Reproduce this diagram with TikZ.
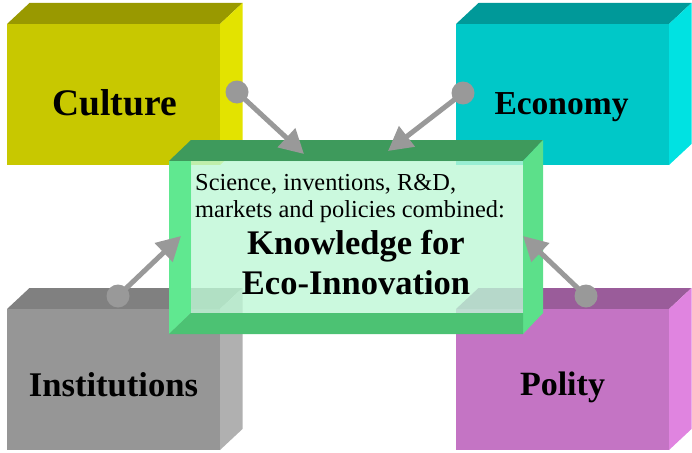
\documentclass[tikz,border=0pt]{standalone}
\usepackage{fontspec}
\setmainfont{Liberation Serif}
\usetikzlibrary{arrows.meta}

\definecolor{culFront}{HTML}{C8C800}
\definecolor{culTop}{HTML}{999900}
\definecolor{culSide}{HTML}{E3E300}
\definecolor{ecoFront}{HTML}{00C8C8}
\definecolor{ecoTop}{HTML}{009999}
\definecolor{ecoSide}{HTML}{00E2E2}
\definecolor{insFront}{HTML}{969696}
\definecolor{insTop}{HTML}{808080}
\definecolor{insSide}{HTML}{B0B0B0}
\definecolor{polFront}{HTML}{C474C4}
\definecolor{polTop}{HTML}{9A5C9A}
\definecolor{polSide}{HTML}{E084E0}
\definecolor{knTop}{HTML}{3E9A5C}
\definecolor{knSide}{HTML}{5CE08A}
\definecolor{knLeft}{HTML}{60E890}
\definecolor{knBottom}{HTML}{4CC273}
\definecolor{knPanel}{HTML}{BEF8D6}
\definecolor{linkGray}{HTML}{999999}

% solid cuboid: front corners (#1,#2)-(#3,#4), colours front/top/side
\newcommand\solidcuboid[7]{%
  \fill[#6] (#1,#2) -- (#1+22.5,#2-21) -- (#3+22.5,#2-21) -- (#3,#2) -- cycle;
  \fill[#7] (#3,#2) -- (#3+22.5,#2-21) -- (#3+22.5,#4-21) -- (#3,#4) -- cycle;
  \fill[#5] (#1,#2) rectangle (#3,#4);
}

\begin{document}
\begin{tikzpicture}[x=1pt,y=-1pt,
  biglabel/.style={font=\fontsize{#1}{38}\selectfont\bfseries, inner sep=0pt, anchor=base},
  smalltext/.style={font=\fontsize{24.4}{27}\selectfont, inner sep=0pt, anchor=base west},
  boldtext/.style={font=\fontsize{34.5}{36}\selectfont\bfseries, inner sep=0pt, anchor=base},
  dot/.style={circle, fill=linkGray, minimum size=23pt, inner sep=0pt},
  link/.style={draw=linkGray, line width=5pt, -{Triangle[length=24pt,width=25pt]}}]
\useasboundingbox (0,0) rectangle (692,452);

% the four surrounding blocks
\solidcuboid{7}{24}{220}{165}{culFront}{culTop}{culSide}
\solidcuboid{456}{24}{669}{165}{ecoFront}{ecoTop}{ecoSide}
\solidcuboid{7}{309}{220}{450}{insFront}{insTop}{insSide}
\solidcuboid{456}{309}{669}{450}{polFront}{polTop}{polSide}

\node[biglabel=37.5] (culture) at (114.5,115) {Culture};
\node[biglabel=33.5] (economy) at (561.5,114) {Economy};
\node[biglabel=34.6] (institutions) at (113.5,396) {Institutions};
\node[biglabel=34] (polity) at (562.5,395) {Polity};

% central open frame box
\fill[knTop] (169,161) -- (191,140) -- (543,140) -- (523,161) -- cycle;
\fill[knSide] (523,161) -- (543,140) -- (543,313) -- (523,334) -- cycle;
\fill[knLeft] (169,161) -- (191,161) -- (191,313) -- (169,334) -- cycle;
\fill[knBottom] (169,334) -- (191,313) -- (523,313) -- (523,334) -- cycle;
\fill[knPanel, fill opacity=0.8] (191,161) rectangle (523,313);
\node[inner sep=0pt, minimum width=354pt, minimum height=173pt] (knowledge) at (346,247.5) {};

\node[smalltext] (line1) at (195,190) {Science, inventions, R\&D,};
\node[smalltext] (line2) at (195,217) {markets and policies combined:};
\node[boldtext] (line3) at (356,254) {Knowledge for};
\node[boldtext] (line4) at (356,294) {Eco-Innovation};

% connectors from each block into the central box
\node[dot] (dculture) at (237,92) {};
\node[dot] (deconomy) at (463,93) {};
\node[dot] (dinstitutions) at (118,296) {};
\node[dot] (dpolity) at (586,296) {};

\coordinate (tculture) at (304,154);
\coordinate (teconomy) at (388,151);
\coordinate (tinstitutions) at (181,236);
\coordinate (tpolity) at (523,236);

\draw[link] (dculture.center) -- (tculture);
\draw[link] (deconomy.center) -- (teconomy);
\draw[link] (dinstitutions.center) -- (tinstitutions);
\draw[link] (dpolity.center) -- (tpolity);
\end{tikzpicture}
\end{document}
